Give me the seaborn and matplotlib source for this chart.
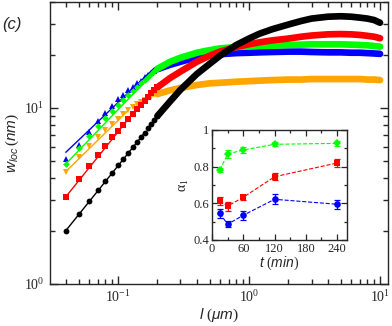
import numpy as np
import pandas as pd
import matplotlib.pyplot as plt
import matplotlib.ticker as mticker
import seaborn as sns

sns.set_style('ticks')
plt.rcParams['font.family'] = ['Liberation Serif', 'DejaVu Serif']
plt.rcParams['mathtext.fontset'] = 'custom'
plt.rcParams['mathtext.rm'] = 'Liberation Serif'
plt.rcParams['mathtext.it'] = 'Liberation Sans:italic'
plt.rcParams['mathtext.sf'] = 'Liberation Sans'
plt.rcParams['axes.linewidth'] = 1.0

# small-l region, individual markers
l_short = [0.04, 0.05, 0.06, 0.07, 0.08, 0.09, 0.10, 0.11, 0.12,
           0.13, 0.14, 0.15, 0.16, 0.17, 0.18, 0.19, 0.20]
w_blue_short = [5.1, 6.2, 7.3, 8.4, 9.4, 10.3, 11.2, 11.9, 12.6,
                13.2, 13.8, 14.3, 14.9, 15.4, 15.9, 16.3, 16.6]
w_green_short = [4.81, 5.9, 6.9, 7.9, 8.8, 9.6, 10.4, 11.1, 11.8,
                 12.5, 13.1, 13.8, 14.4, 15.0, 15.6, 16.2, 16.7]
w_orange_short = [4.35, 5.29, 6.1, 6.8, 7.5, 8.1, 8.7, 9.2, 9.7,
                  10.1, 10.5, 10.8, 11.1, 11.4, 11.6, 11.8, 12.0]
w_red_short = [3.13, 3.94, 4.7, 5.39, 6.1, 6.81, 7.43, 8.05, 8.65,
               9.25, 9.85, 10.45, 11.0, 11.6, 12.1, 12.6, 13.1]
w_black_short = [2.01, 2.49, 2.95, 3.41, 3.86, 4.29, 4.74, 5.15, 5.57,
                 5.98, 6.41, 6.82, 7.24, 7.65, 8.07, 8.5, 9.0]

# large-l region, dense data (drawn as thick band)
l_long = [0.2, 0.25, 0.3, 0.4, 0.5, 0.6, 0.8, 1.0, 1.2, 1.5,
          2.0, 2.5, 3.0, 4.0, 5.0, 6.0, 7.0, 8.0, 9.0, 10.0]
w_blue_long = [16.6, 17.6, 18.3, 19.4, 19.9, 20.2, 20.5, 20.6, 20.7, 20.8,
               20.9, 20.9, 20.8, 20.7, 20.7, 20.6, 20.6, 20.5, 20.4, 20.3]
w_green_long = [16.7, 18.3, 19.3, 20.6, 21.3, 21.8, 22.2, 22.4, 22.5, 22.6,
                22.8, 22.9, 23.0, 23.0, 23.0, 22.9, 22.8, 22.7, 22.5, 22.3]
w_orange_long = [12.0, 12.6, 13.0, 13.5, 13.8, 13.9, 14.1, 14.2, 14.3, 14.4,
                 14.5, 14.5, 14.6, 14.6, 14.6, 14.6, 14.6, 14.5, 14.5, 14.4]
w_red_long = [13.1, 14.8, 16.1, 18.3, 19.8, 20.9, 22.2, 23.0, 23.6, 24.2,
              24.8, 25.4, 25.8, 26.2, 26.3, 26.2, 26.0, 25.7, 25.4, 24.9]
w_black_long = [9.0, 10.9, 12.7, 15.6, 17.8, 19.8, 22.8, 24.8, 26.4, 28.0,
                29.8, 31.2, 32.2, 33.0, 33.2, 33.0, 32.6, 32.2, 31.6, 30.5]

# power-law fits at small l
fit_blue_l, fit_blue_w = [0.04, 0.19], [5.6, 16.9]
fit_green_l, fit_green_w = [0.04, 0.20], [4.81, 16.7]
fit_orange_l, fit_orange_w = [0.04, 0.12], [4.35, 9.7]
fit_red_l, fit_red_w = [0.04, 0.12], [3.13, 8.65]
fit_black_l, fit_black_w = [0.04, 0.16], [2.01, 7.24]

# inset: alpha_1 vs t
t_min = [15, 30, 60, 120, 240]
alpha_green = [0.782, 0.869, 0.891, 0.922, 0.927]
err_green = [0.01, 0.02, 0.015, 0.01, 0.012]
alpha_red = [0.613, 0.585, 0.633, 0.745, 0.82]
err_red = [0.02, 0.025, 0.015, 0.02, 0.02]
alpha_blue = [0.545, 0.486, 0.535, 0.622, 0.595]
err_blue = [0.025, 0.015, 0.025, 0.028, 0.025]

C_BLUE, C_GREEN, C_ORANGE, C_RED, C_BLACK = '#0000FF', '#00FF00', '#FFA500', '#FF0000', '#000000'

fig = plt.figure(figsize=(3.92, 3.26), dpi=100)
ax = fig.add_axes([50/392, 1-284/326, 338/392, 282/326])

series = [
    (w_blue_short, w_blue_long, fit_blue_l, fit_blue_w, C_BLUE, '^', 4.6),
    (w_green_short, w_green_long, fit_green_l, fit_green_w, C_GREEN, 'D', 3.4),
    (w_orange_short, w_orange_long, fit_orange_l, fit_orange_w, C_ORANGE, 'v', 4.4),
    (w_red_short, w_red_long, fit_red_l, fit_red_w, C_RED, 's', 3.7),
    (w_black_short, w_black_long, fit_black_l, fit_black_w, C_BLACK, 'o', 4.2),
]
for ws, wl, fl, fw, c, m, ms in series:
    sns.lineplot(x=fl, y=fw, color=c, linewidth=1.0, ax=ax)
    sns.lineplot(x=l_long, y=wl, color=c, linewidth=4.8, ax=ax,
                 solid_capstyle='round')
    sns.lineplot(x=l_short, y=ws, color=c, linewidth=0, marker=m,
                 markersize=ms, markeredgewidth=0, ax=ax)

ax.set_xscale('log')
ax.set_yscale('log')
ax.set_xlim(0.0303, 11.5)
ax.set_ylim(1, 40)
ax.xaxis.set_major_locator(mticker.LogLocator(base=10))
ax.xaxis.set_minor_locator(mticker.LogLocator(base=10, subs=np.arange(2, 10)))
ax.yaxis.set_major_locator(mticker.LogLocator(base=10))
ax.yaxis.set_minor_locator(mticker.LogLocator(base=10, subs=np.arange(2, 10)))
ax.yaxis.set_minor_formatter(mticker.NullFormatter())
ax.xaxis.set_minor_formatter(mticker.NullFormatter())
ax.tick_params(which='both', direction='in', top=True, right=True, width=1.0)
ax.tick_params(which='major', length=6, labelsize=10, pad=4)
ax.tick_params(which='minor', length=3.5)
ax.set_xlabel(r'$l$ ($\mu$$m$)', fontsize=11, labelpad=1)
ax.set_ylabel(r'$w_{loc}\,(nm)$', fontsize=11, labelpad=2)
fig.text(12/392, 1-25/326, '(c)', fontsize=12, style='italic',
         family='Liberation Sans', ha='center', va='center')

# inset
axi = fig.add_axes([212/392, 1-240/326, 135/392, 110/326])
for a, e, c, m, ms in [(alpha_green, err_green, C_GREEN, 'D', 3.6),
                       (alpha_red, err_red, C_RED, 's', 4.2),
                       (alpha_blue, err_blue, C_BLUE, 'o', 4.8)]:
    sns.lineplot(x=t_min, y=a, color=c, linewidth=0.8, linestyle='--',
                 marker=m, markersize=ms, markeredgewidth=0, ax=axi)
    axi.errorbar(t_min, a, yerr=e, fmt='none', ecolor=c, elinewidth=0.9,
                 capsize=2.5, capthick=0.9)
axi.set_xlim(0, 259)
axi.set_ylim(0.4, 1.0)
axi.set_xticks([0, 60, 120, 180, 240])
axi.xaxis.set_minor_locator(mticker.MultipleLocator(30))
axi.set_yticks([0.4, 0.6, 0.8, 1.0])
axi.set_yticklabels(['0.4', '0.6', '0.8', '1'])
axi.yaxis.set_minor_locator(mticker.MultipleLocator(0.1))
axi.tick_params(which='both', direction='in', top=True, right=True, width=0.9)
axi.tick_params(which='major', length=4.5, labelsize=9, pad=2)
axi.tick_params(which='minor', length=2.5)
axi.set_xlabel(r'$t\;(min)$', fontsize=10, labelpad=0)
axi.set_ylabel(r'$\mathrm{\alpha}_\mathrm{1}$', fontsize=10, labelpad=2)

fig.savefig('out.png', dpi=100)
